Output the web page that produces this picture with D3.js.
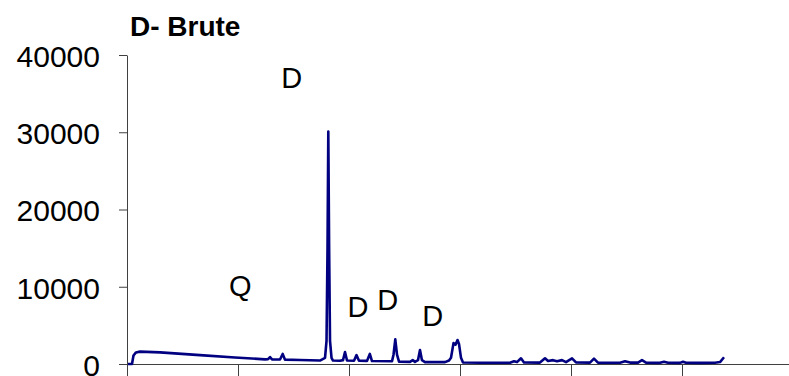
<!DOCTYPE html>
<html>
<head>
<meta charset="utf-8">
<script src="https://cdn.jsdelivr.net/npm/d3@7"></script>
<style>
  body { margin: 0; background: #fff; }
  svg { display: block; font-family: "Liberation Sans", Arial, sans-serif; }
</style>
</head>
<body>
<div id="chart"></div>
<script>
// XRD pattern, raw sample (D = dolomite, Q = quartz)
var twoTheta = [0.18, 0.90, 1.17, 1.62, 2.34, 5.95, 13.15, 19.46, 24.86, 25.41, 25.77, 26.13, 27.57, 28.05, 28.47,
  31.17, 34.77, 35.68, 35.95, 36.13, 36.27, 36.42, 36.58, 36.85, 37.12, 38.38, 38.92, 39.28, 39.64, 40.90,
  41.35, 41.80, 43.24, 43.75, 44.14, 47.75, 48.02, 48.34, 48.65, 49.01, 50.99, 51.48, 51.89, 52.43, 52.79,
  53.15, 53.69, 57.30, 58.02, 58.38, 58.83, 59.19, 59.55, 59.82, 60.18, 60.54, 63.60, 69.01, 69.73, 70.27,
  70.99, 71.53, 74.41, 75.32, 75.86, 76.76, 77.48, 78.38, 79.10, 80.18, 80.90, 83.42, 84.14, 84.86, 88.83,
  89.73, 90.63, 92.07, 92.79, 93.51, 96.04, 96.76, 97.48, 99.64, 100.18, 100.72, 103.24, 105.95, 106.85, 107.57];
var counts = [0, 0, 1100, 1500, 1600, 1500, 1150, 850, 600, 620, 900, 600, 580, 1300, 560,
  520, 450, 800, 3000, 15000, 30100, 15000, 3000, 800, 450, 420, 500, 1550, 450, 430,
  1150, 420, 400, 1300, 380, 350, 1200, 3200, 1200, 300, 280, 500, 280, 500, 1800,
  500, 240, 240, 450, 800, 2700, 2500, 3100, 2600, 800, 200, 170, 170, 350, 250,
  740, 200, 180, 740, 400, 500, 350, 500, 250, 740, 200, 180, 700, 180, 170,
  350, 180, 180, 500, 180, 150, 300, 160, 150, 300, 160, 150, 170, 250, 870];

var yTicks = [0, 10000, 20000, 30000, 40000];
var xTicks = [0, 20, 40, 60, 80, 100, 120];

var labels = ["D", "Q", "D", "D", "D"];
var labelX = [29.7, 20.4, 41.6, 47.0, 55.1];
var labelY = [35730, 8800, 6080, 6990, 4920];

var title = "D- Brute";

var width = 789, height = 376;
var margin = {top: 55, left: 127, bottom: 12};

var svg = d3.select("#chart").append("svg")
  .attr("width", width)
  .attr("height", height);

var x = d3.scaleLinear().domain([0, 120]).range([margin.left, 793]);
var y = d3.scaleLinear().domain([0, 40000]).range([height - margin.bottom, margin.top]);

var data = twoTheta.map(function(t, i) { return {t: t, c: counts[i]}; });

// axes
var yAxis = svg.append("g")
  .attr("transform", "translate(" + margin.left + ",0)")
  .call(d3.axisLeft(y).tickValues(yTicks).tickFormat(d3.format("d"))
    .tickSize(8).tickSizeOuter(0).tickPadding(19));
yAxis.select(".domain").attr("stroke", "#404040");
yAxis.selectAll(".tick line").attr("stroke", "#404040");
yAxis.selectAll(".tick text")
  .attr("font-size", "30px")
  .attr("fill", "#000")
  .attr("dy", "0.38em");

var xAxis = svg.append("g")
  .attr("transform", "translate(0," + y(0) + ")")
  .call(d3.axisBottom(x).tickValues(xTicks).tickSize(12).tickSizeOuter(0).tickFormat(""));
xAxis.select(".domain").attr("stroke", "#404040");
xAxis.selectAll(".tick line").attr("stroke", "#404040");

// pattern
svg.append("path")
  .datum(data)
  .attr("fill", "none")
  .attr("stroke", "#000080")
  .attr("stroke-width", 2.6)
  .attr("stroke-linejoin", "round")
  .attr("d", d3.line().x(function(d) { return x(d.t); }).y(function(d) { return y(d.c); }));

// phase labels
svg.append("g").selectAll("text")
  .data(labels)
  .join("text")
  .attr("x", function(d, i) { return x(labelX[i]); })
  .attr("y", function(d, i) { return y(labelY[i]); })
  .attr("text-anchor", "middle")
  .attr("font-size", "29px")
  .attr("fill", "#000")
  .text(function(d) { return d; });

svg.append("text")
  .attr("x", 130)
  .attr("y", 36)
  .attr("font-size", "28px")
  .attr("font-weight", "bold")
  .attr("fill", "#000")
  .text(title);
</script>
</body>
</html>
